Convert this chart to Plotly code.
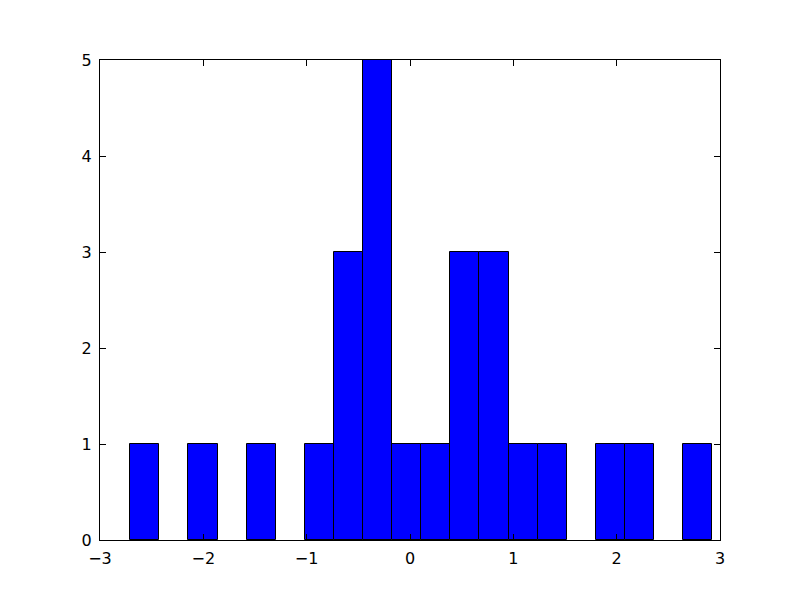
import plotly.graph_objects as go

bin_start = -2.707
bin_width = 0.2816
counts = [1, 0, 1, 0, 1, 0, 1, 3, 5, 1, 1, 3, 3, 1, 1, 0, 1, 1, 0, 1]

centers = [bin_start + bin_width * (i + 0.5) for i in range(len(counts))]
xs = [c for c, n in zip(centers, counts) if n > 0]
ys = [n for n in counts if n > 0]

fig = go.Figure(go.Bar(
    x=xs, y=ys, width=[bin_width] * len(xs),
    marker=dict(color="#0000ff", line=dict(color="black", width=1)),
))

axis_common = dict(
    showgrid=False, zeroline=False, showline=True, linecolor="black", linewidth=1,
    mirror="ticks", ticks="inside", ticklen=6, tickcolor="black", tickwidth=1,
    tickfont=dict(family="DejaVu Sans", size=16, color="black"),
)
fig.update_xaxes(range=[-3, 3], tickvals=[-3, -2, -1, 0, 1, 2, 3],
                 ticktext=["\u22123", "\u22122", "\u22121", "0", "1", "2", "3"],
                 ticklabelstandoff=4, **axis_common)
fig.update_yaxes(range=[0, 5], tickvals=[0, 1, 2, 3, 4, 5], ticklabelstandoff=4, **axis_common)

fig.update_layout(
    width=800, height=600, margin=dict(l=92, r=88, t=52, b=68),
    plot_bgcolor="white", paper_bgcolor="white", bargap=0, showlegend=False,
)
fig.write_html("out.html")
